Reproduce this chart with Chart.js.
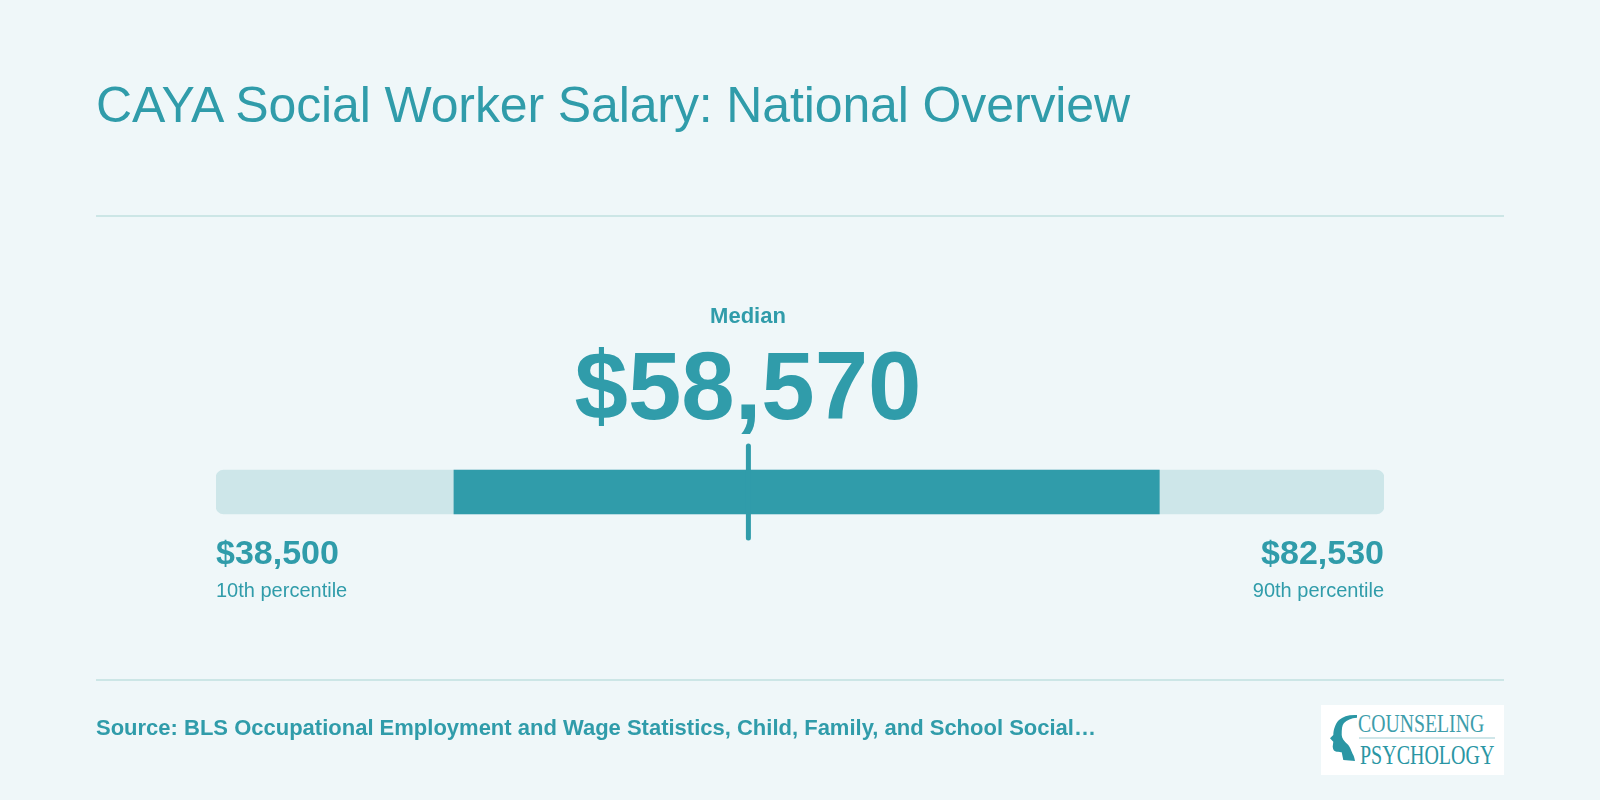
<!DOCTYPE html>
<html>
<head>
<meta charset="utf-8">
<script src="https://cdn.jsdelivr.net/npm/chart.js@4"></script>
<style>
  html, body { margin: 0; padding: 0; background: #eff7f9; }
  body { width: 1600px; height: 800px; position: relative; overflow: hidden; font-family: "Liberation Sans", sans-serif; color: #309caa; }
  canvas { position: absolute; left: 0; top: 0; }
  .t { position: absolute; white-space: nowrap; line-height: 1; }
  .rule { position: absolute; left: 96px; width: 1408px; height: 2px; background: #cce6e6; }
  #logo { position: absolute; left: 1321px; top: 705px; width: 183px; height: 70px; background: #fff; overflow: hidden; }
  #logo span { position: absolute; font-family: "Liberation Serif", serif; white-space: nowrap; line-height: 1; transform-origin: left top; }
</style>
</head>
<body>
<canvas id="rangeChart" width="1600" height="800"></canvas>

<div class="t" id="title" style="left:96px;top:80px;font-size:50px;letter-spacing:-0.12px;">CAYA Social Worker Salary: National Overview</div>
<div class="rule" style="top:215px;"></div>
<div class="t" id="medLabel" style="left:748px;top:305px;font-size:22px;font-weight:bold;transform:translateX(-50%);">Median</div>
<div class="t" id="medValue" style="left:748px;top:338px;font-size:96px;font-weight:bold;transform:translateX(-50%);">$58,570</div>
<div class="t" id="lowValue" style="left:216px;top:535px;font-size:34px;font-weight:bold;"></div>
<div class="t" id="lowLabel" style="left:216px;top:580px;font-size:20px;"></div>
<div class="t" id="highValue" style="right:216px;top:535px;font-size:34px;font-weight:bold;"></div>
<div class="t" id="highLabel" style="right:216px;top:580px;font-size:20px;"></div>
<div class="rule" style="top:679px;"></div>
<div class="t" id="source" style="left:96px;top:717px;font-size:22px;font-weight:bold;">Source: BLS Occupational Employment and Wage Statistics, Child, Family, and School Social…</div>

<div id="logo">
  <svg width="60" height="70" style="position:absolute;left:0;top:0">
    <path d="M36 10 C28 9.5 22 11.5 18 15 C14 19 12.5 25 12.3 30 L9 33.3 L12.3 36.7 L11.7 41.7 C12 45 13.5 46.5 15.7 46.7 C18 47 20 47 20.7 47.3 L22.3 55 L34 56 C33.5 53 33 51 31.7 49 C30 45 29 42 27.3 40 C23 36 20.7 33 20.7 30 C20.7 24 21 20 23 18 C26 15 30 13 36 12.7 Z" fill="#2a96a4"/>
  </svg>
  <span style="left:37px;top:6px;font-size:26px;color:#3d9dab;transform:scaleX(.76);">COUNSELING</span>
  <div style="position:absolute;left:38px;top:32px;width:136px;height:2px;background:#cfe6e9;"></div>
  <span style="left:39px;top:37px;font-size:27px;color:#2a96a4;transform:scaleX(.74);">PSYCHOLOGY</span>
</div>

<script>
const categories = ['Salary'];
const range10to90 = [38500, 82530];
const middleBand = [47470, 74060];
const medianValue = 58570;
const rangeLabels = ['10th percentile', '90th percentile'];

const money = v => '$' + v.toLocaleString('en-US');
document.getElementById('lowValue').textContent = money(range10to90[0]);
document.getElementById('highValue').textContent = money(range10to90[1]);
document.getElementById('lowLabel').textContent = rangeLabels[0];
document.getElementById('highLabel').textContent = rangeLabels[1];

const teal = '#309caa';
const paleTeal = '#cde6e9';

// the median tick is a rotated line point, round caps have to be set by hand
const roundCaps = {
  id: 'roundCaps',
  beforeDatasetDraw(chart) { chart.ctx.lineCap = 'round'; }
};

Chart.defaults.animation = false;

new Chart(document.getElementById('rangeChart').getContext('2d'), {
  data: {
    labels: categories,
    datasets: [
      {
        type: 'line',
        data: [{ x: medianValue, y: categories[0] }],
        showLine: false,
        pointStyle: 'line',
        pointRadius: 46,
        pointRotation: 90,
        pointBorderWidth: 5,
        pointBorderColor: teal,
        order: 0
      },
      {
        type: 'bar',
        data: [middleBand],
        backgroundColor: teal,
        barThickness: 44,
        grouped: false,
        order: 1
      },
      {
        type: 'bar',
        data: [range10to90],
        backgroundColor: paleTeal,
        barThickness: 44,
        borderRadius: 8,
        borderSkipped: false,
        grouped: false,
        order: 2
      }
    ]
  },
  options: {
    indexAxis: 'y',
    responsive: false,
    layout: { padding: { left: 216, right: 216, top: 392, bottom: 208 } },
    plugins: { legend: { display: false }, tooltip: { enabled: false } },
    scales: {
      x: { type: 'linear', min: range10to90[0], max: range10to90[1], display: false },
      y: { type: 'category', display: false }
    }
  },
  plugins: [roundCaps]
});
</script>
</body>
</html>
